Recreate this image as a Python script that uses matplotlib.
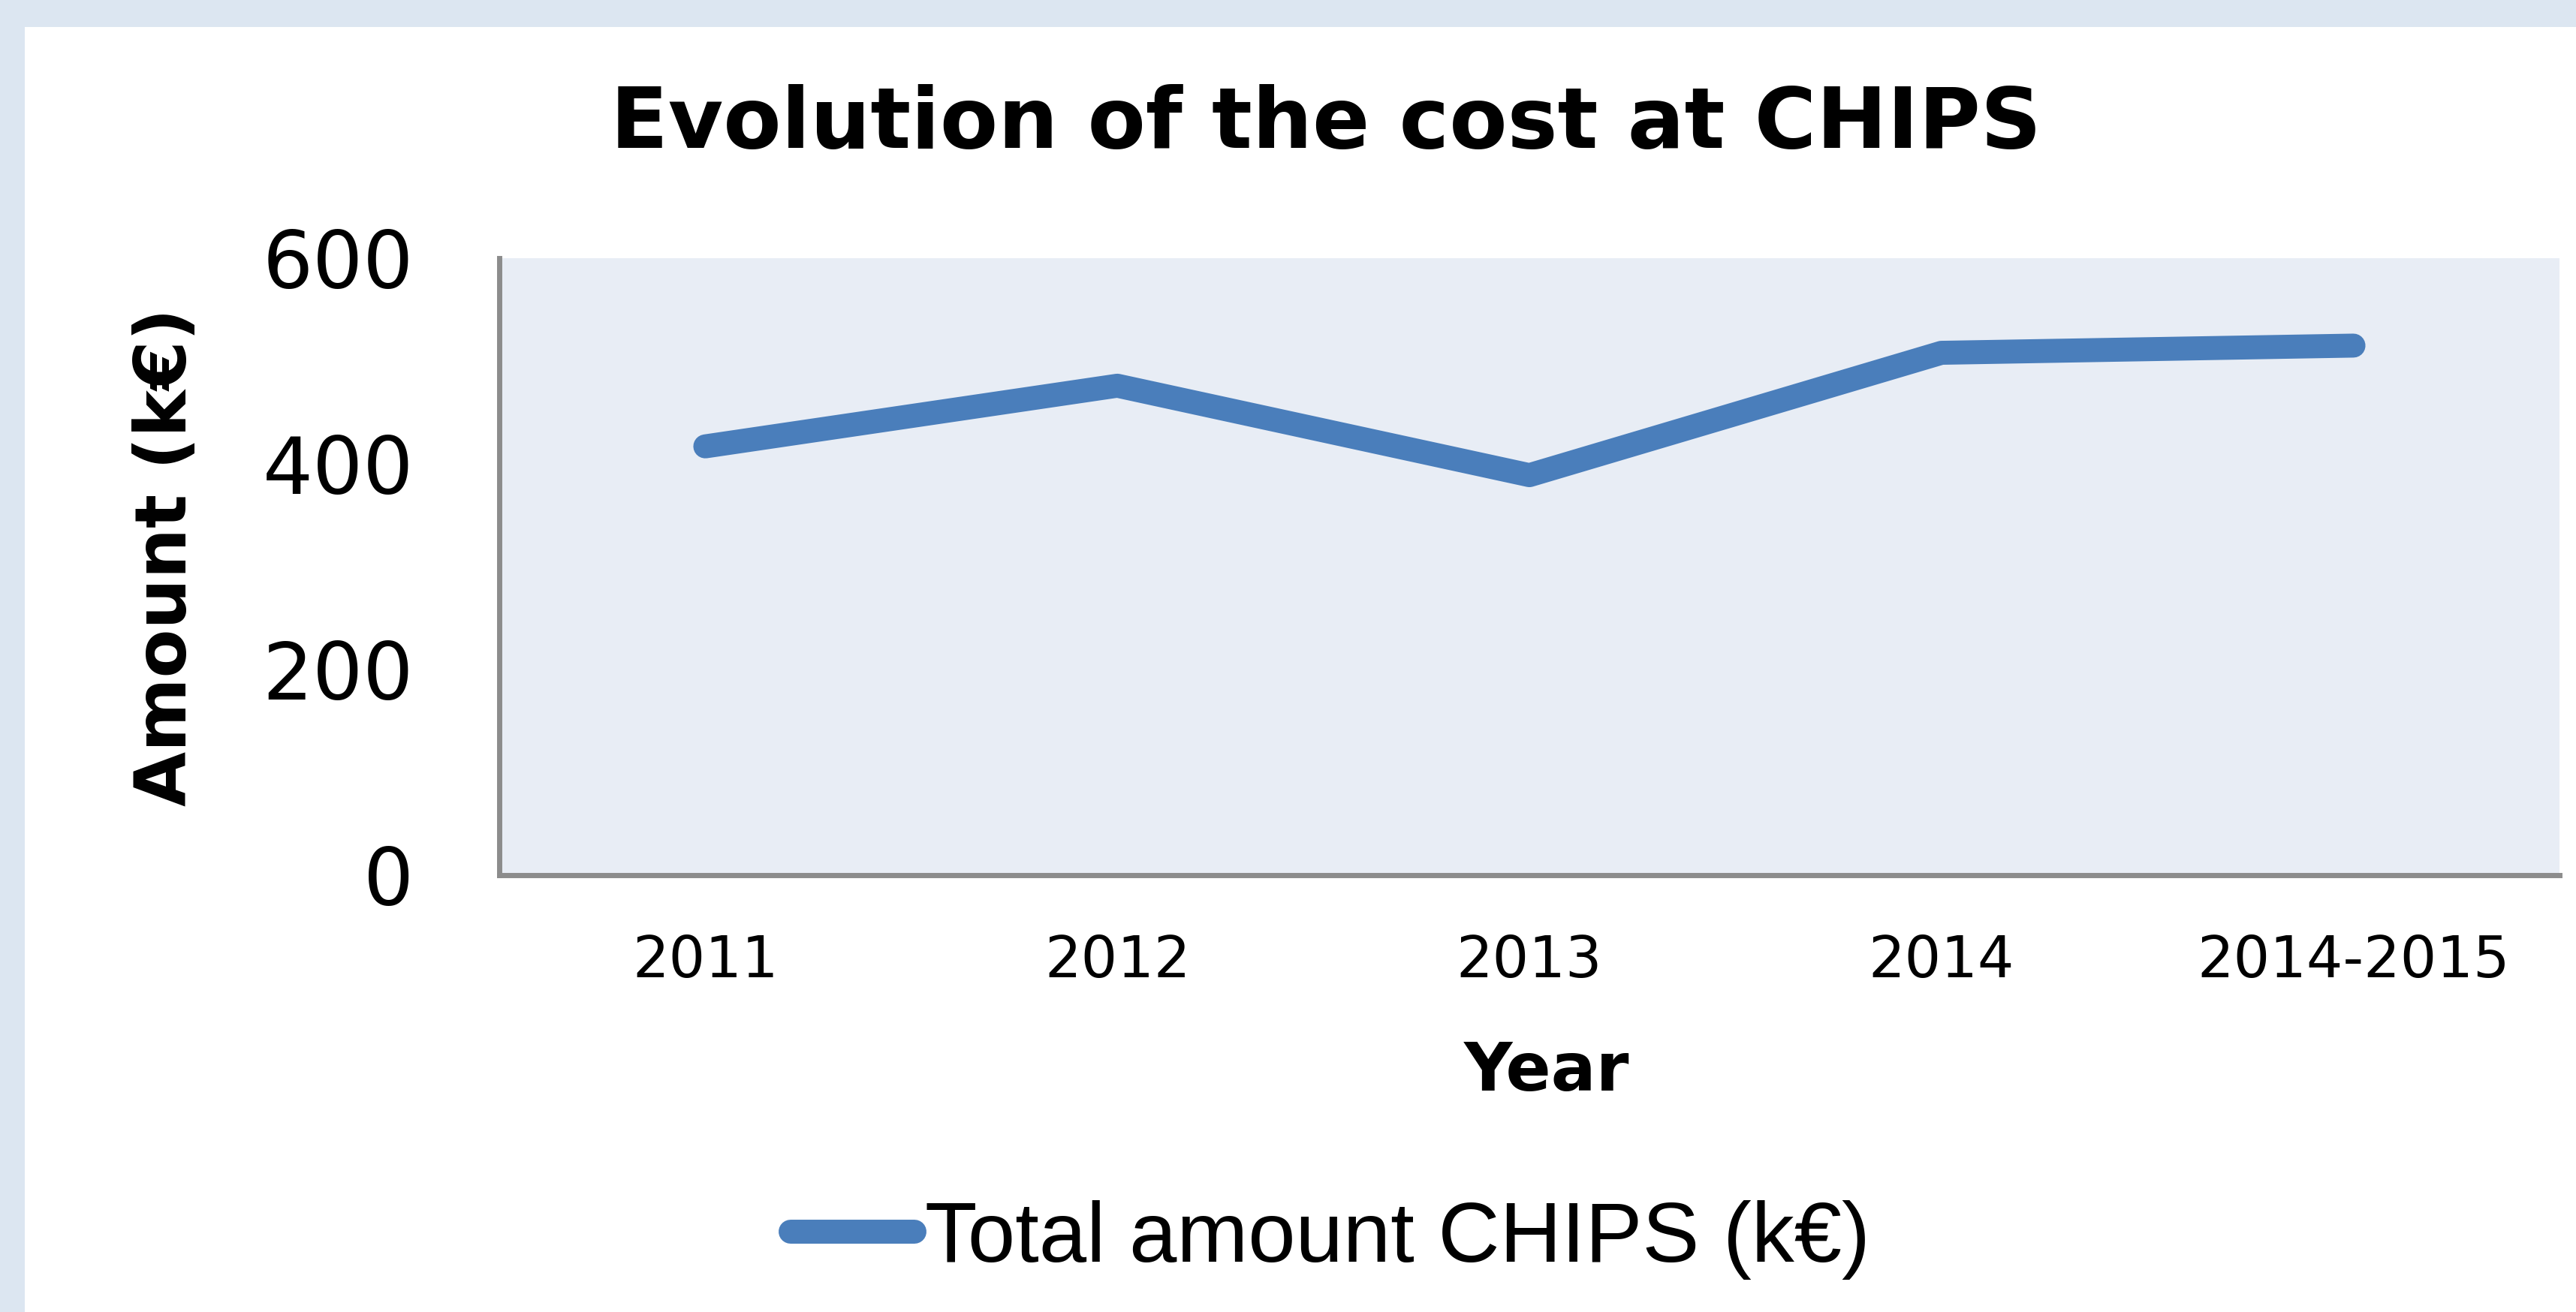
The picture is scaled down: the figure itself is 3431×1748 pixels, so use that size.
import matplotlib
matplotlib.use("Agg")
import matplotlib.pyplot as plt
from matplotlib.patches import Rectangle

# Data
years = ["2011", "2012", "2013", "2014", "2014-2015"]
amounts = [417, 476, 389, 508, 515]
y_ticks = [0, 200, 400, 600]
series_label = "Total amount CHIPS (k\u20ac)"

W, H = 3431, 1748
DPI = 100
fig = plt.figure(figsize=(W / DPI, H / DPI), dpi=DPI)
fig.patch.set_facecolor("#DCE6F1")
# white chart area (light blue band at top and left)
fig.patches.append(Rectangle((33 / W, 0), 1 - 33 / W, 1 - 36 / H,
                             transform=fig.transFigure, facecolor="white",
                             edgecolor="none", zorder=-5))

left, right, top, bottom = 665 / W, 3409 / W, 1 - 344 / H, 1 - 1166 / H
ax = fig.add_axes([left, bottom, right - left, top - bottom])
ax.set_zorder(2)
ax.set_facecolor("#E8EDF5")

x = list(range(len(years)))
ax.plot(x, amounts, color="#4A7EBB", linewidth=23, solid_capstyle="round",
        solid_joinstyle="round", label=series_label)

ax.set_xlim(-0.5, len(years) - 0.5)
ax.set_ylim(0, 600)
ax.set_yticks(y_ticks)
ax.set_xticks(x)
ax.set_xticklabels(years)

for s in ["top", "right"]:
    ax.spines[s].set_visible(False)
for s in ["left", "bottom"]:
    ax.spines[s].set_color("#8C8C8C")
    ax.spines[s].set_linewidth(5)

ax.tick_params(axis="y", length=0, pad=82, labelsize=76, labelcolor="black")
ax.tick_params(axis="x", length=0, pad=56, labelsize=55, labelcolor="black")
for lab in ax.get_yticklabels() + ax.get_xticklabels():
    lab.set_family("DejaVu Sans")

fig.text(1766 / W, 1 - 166 / H, "Evolution of the cost at CHIPS",
         ha="center", va="center", fontsize=81, fontweight="bold",
         family="DejaVu Sans")
fig.text(2060 / W, 1 - 1429 / H, "Year", ha="center", va="center",
         fontsize=64, fontweight="bold", family="DejaVu Sans")
fig.text(222 / W, 1 - 742 / H, "Amount (k\u20ac)", ha="center", va="center",
         rotation=90, fontsize=68, fontweight="bold", family="DejaVu Sans")

leg = fig.legend(loc="center", bbox_to_anchor=(1772 / W, 1 - 1652 / H),
                 frameon=False, prop={"family": "Liberation Sans", "size": 82},
                 handlelength=1.45, handletextpad=0.12, borderpad=0)

fig.savefig("out.png", dpi=DPI)
